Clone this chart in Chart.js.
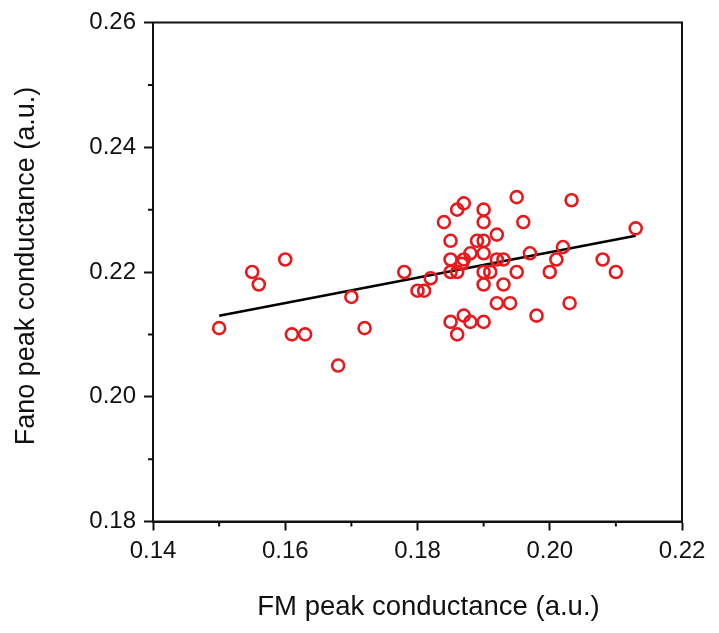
<!DOCTYPE html>
<html><head><meta charset="utf-8">
<script src="https://cdn.jsdelivr.net/npm/chart.js@4/dist/chart.umd.min.js"></script>
<style>html,body{margin:0;padding:0;background:#fff}#wrap{width:719px;height:633px;position:relative}</style>
</head><body><div id="wrap"><canvas id="c" width="719" height="633"></canvas></div>
<script>
const fmConductance = [0.150,0.155,0.156,0.160,0.161,0.163,0.168,0.170,0.172,0.178,0.180,0.181,0.182,0.184,0.185,0.185,0.185,0.186,0.185,0.186,0.186,0.187,0.187,0.1867,0.187,0.188,0.188,0.189,0.190,0.190,0.190,0.190,0.190,0.191,0.190,0.190,0.192,0.192,0.193,0.193,0.192,0.194,0.195,0.196,0.195,0.197,0.198,0.200,0.201,0.202,0.2033,0.203,0.208,0.210,0.213];
const fanoConductance = [0.211,0.220,0.218,0.222,0.210,0.210,0.205,0.216,0.211,0.220,0.217,0.217,0.219,0.228,0.225,0.222,0.220,0.220,0.212,0.210,0.230,0.231,0.222,0.2213,0.213,0.223,0.212,0.225,0.230,0.228,0.225,0.223,0.220,0.220,0.218,0.212,0.226,0.222,0.222,0.218,0.215,0.215,0.232,0.228,0.220,0.223,0.213,0.220,0.222,0.224,0.2315,0.215,0.222,0.220,0.227];
const fitX = [0.150, 0.213];
const fitY = [0.2130, 0.2258];
const xMajorTicks = [0.14,0.16,0.18,0.20,0.22];
const xMinorTicks = [0.15,0.17,0.19,0.21];
const yMajorTicks = [0.18,0.20,0.22,0.24,0.26];
const yMinorTicks = [0.19,0.21,0.23,0.25];
const xTitle = 'FM peak conductance (a.u.)';
const yTitle = 'Fano peak conductance (a.u.)';

const FONT = "'Liberation Sans', Arial, sans-serif";
const frame = {
  id: 'frame',
  afterDraw(chart) {
    const {ctx, chartArea: a, scales: {x, y}} = chart;
    ctx.save();
    ctx.strokeStyle = '#111';
    ctx.lineWidth = 2;
    ctx.strokeRect(a.left, a.top, a.right - a.left, a.bottom - a.top);
    ctx.beginPath();
    xMinorTicks.forEach(v => { const p = x.getPixelForValue(v); ctx.moveTo(p, a.bottom); ctx.lineTo(p, a.bottom + 5); });
    yMinorTicks.forEach(v => { const p = y.getPixelForValue(v); ctx.moveTo(a.left, p); ctx.lineTo(a.left - 5, p); });
    ctx.stroke();
    // axis titles
    ctx.fillStyle = '#111';
    ctx.textAlign = 'center';
    ctx.textBaseline = 'middle';
    ctx.font = "27.5px " + FONT;
    ctx.fillText(xTitle, (a.left + a.right) / 2 + 11, 607);
    ctx.translate(27, (a.top + a.bottom) / 2 - 6);
    ctx.rotate(-Math.PI / 2);
    ctx.font = "27px " + FONT;
    ctx.fillText(yTitle, 0, 0);
    ctx.restore();
  }
};

new Chart(document.getElementById('c'), {
  type: 'scatter',
  data: {
    datasets: [
      {
        data: fmConductance.map((v, i) => ({x: v, y: fanoConductance[i]})),
        pointStyle: 'circle', pointRadius: 6, pointHoverRadius: 6,
        borderColor: '#e8191c', backgroundColor: 'rgba(0,0,0,0)', borderWidth: 2.6
      },
      {
        type: 'line',
        data: fitX.map((v, i) => ({x: v, y: fitY[i]})),
        borderColor: '#000', borderWidth: 2.6, pointRadius: 0, fill: false
      }
    ]
  },
  options: {
    responsive: false, devicePixelRatio: 1, animation: false,
    layout: {padding: {left: 0, top: 22.5, right: 37, bottom: 0}},
    plugins: {legend: {display: false}, tooltip: {enabled: false}},
    scales: {
      x: {
        type: 'linear', min: 0.14, max: 0.22,
        afterBuildTicks: s => { s.ticks = xMajorTicks.map(v => ({value: v})); },
        afterFit: s => { s.height = 111.5; },
        ticks: {callback: v => v.toFixed(2), font: {family: FONT, size: 24}, color: '#111', padding: 6, maxRotation: 0},
        grid: {drawOnChartArea: false, drawTicks: true, tickLength: 9, tickWidth: 2, tickColor: '#111'},
        border: {display: true, color: '#111', width: 2},
        title: {display: false}
      },
      y: {
        type: 'linear', min: 0.18, max: 0.26,
        afterBuildTicks: s => { s.ticks = yMajorTicks.map(v => ({value: v})); },
        afterFit: s => { s.width = 153; },
        ticks: {callback: v => v.toFixed(2), font: {family: FONT, size: 24}, color: '#111', padding: 8},
        grid: {drawOnChartArea: false, drawTicks: true, tickLength: 9, tickWidth: 2, tickColor: '#111'},
        border: {display: true, color: '#111', width: 2},
        title: {display: false}
      }
    }
  },
  plugins: [frame]
});
</script></body></html>
